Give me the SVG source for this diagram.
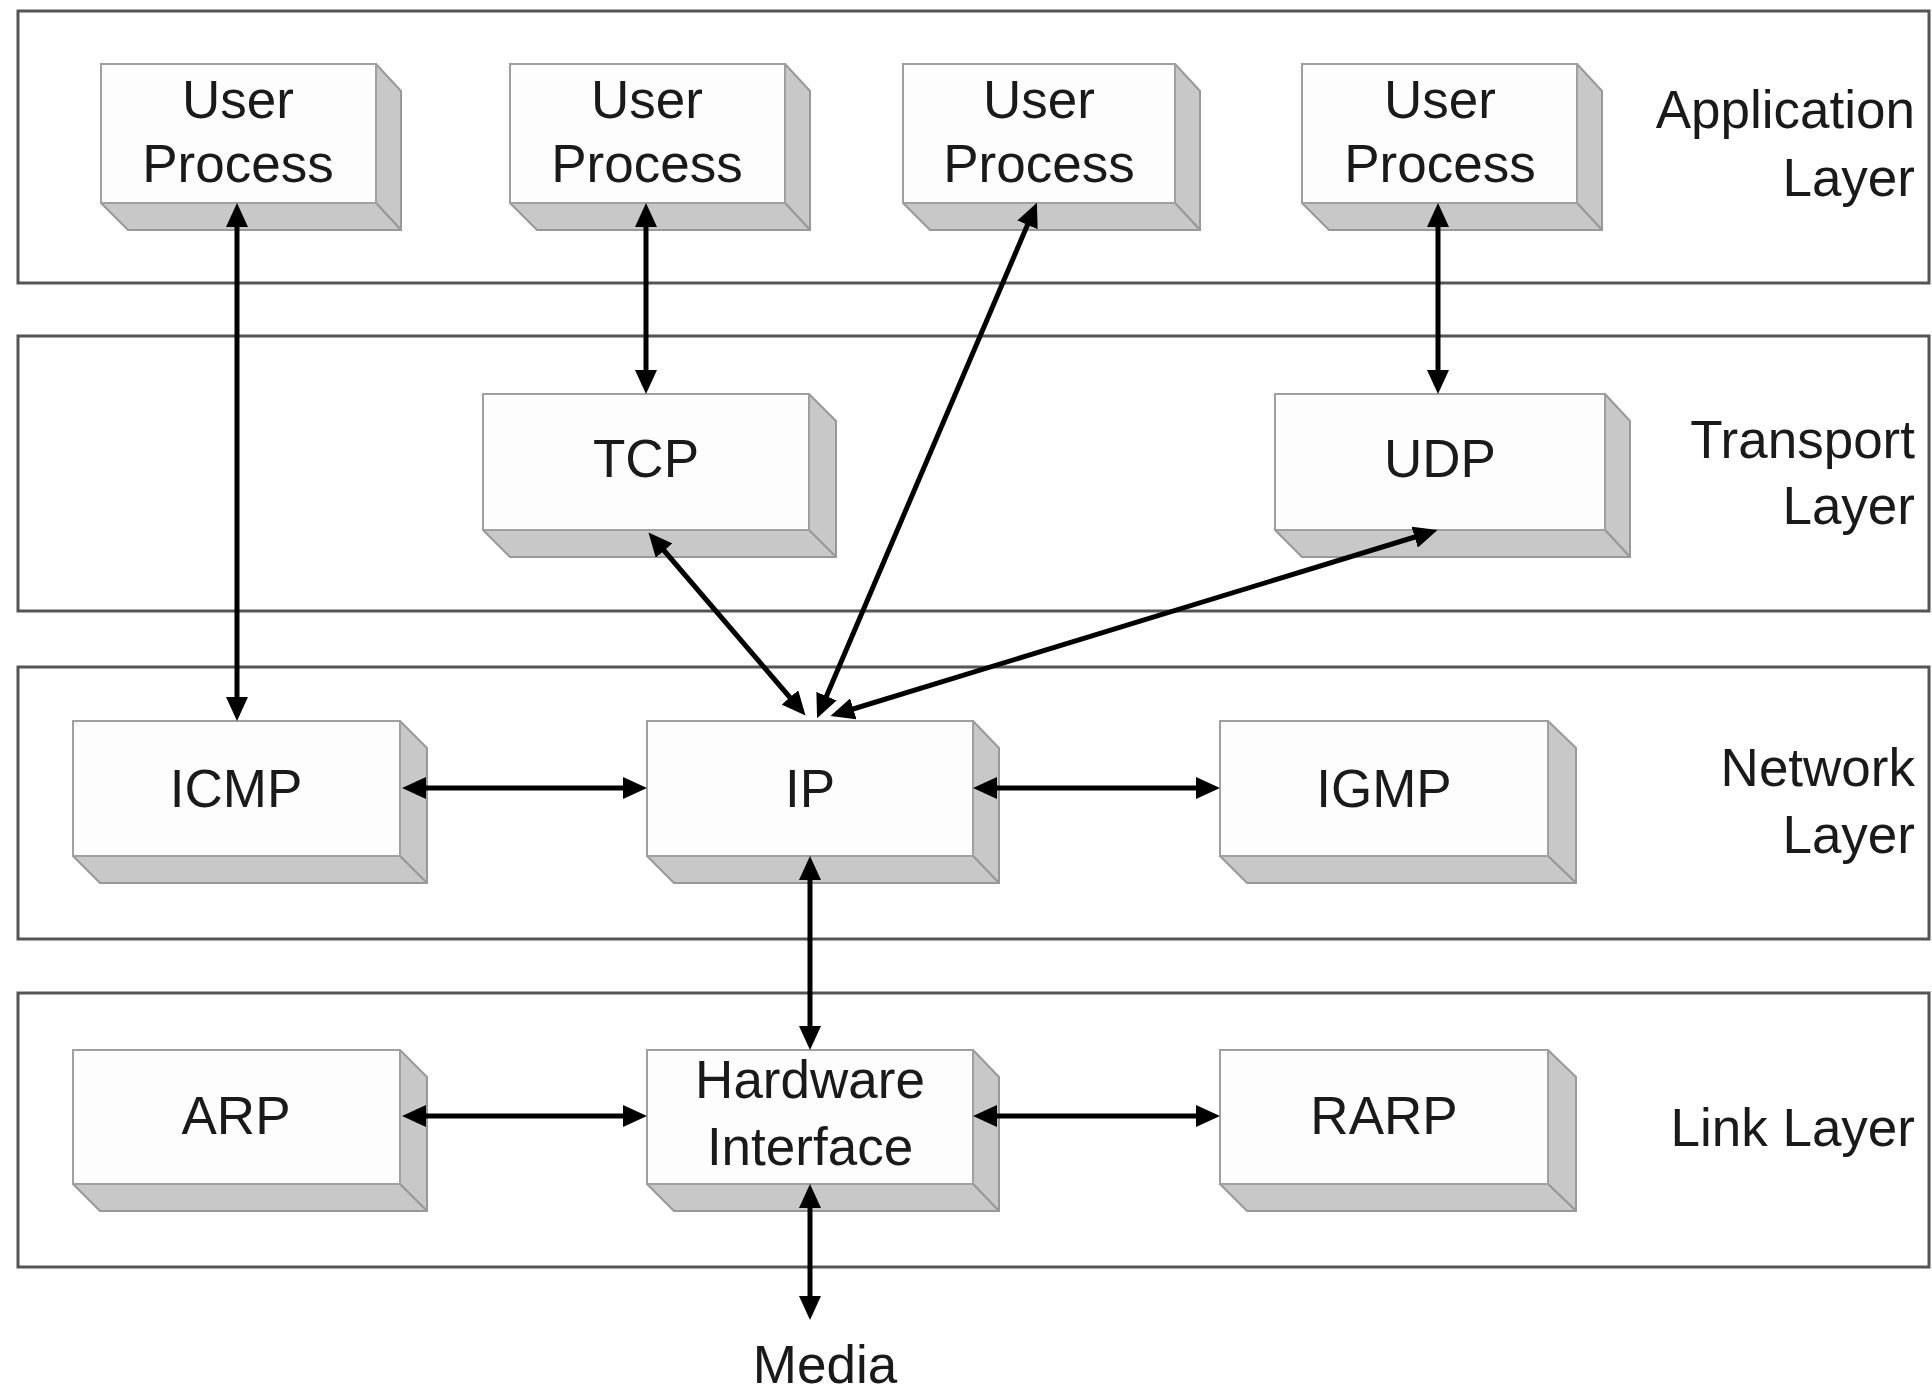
<svg xmlns="http://www.w3.org/2000/svg" width="1932" height="1397" viewBox="0 0 1932 1397">
<style>
.frame{fill:#fff;stroke:#555;stroke-width:3}
.front{fill:#fdfdfd;stroke:#a0a0a0;stroke-width:2}
.side{fill:#c8c8c8;stroke:#999;stroke-width:2;stroke-linejoin:round}
.t{font-family:"Liberation Sans",Arial,sans-serif;font-size:53px;fill:#1a1a1a;text-anchor:middle}
.lbl{font-family:"Liberation Sans",Arial,sans-serif;font-size:53px;fill:#1a1a1a;text-anchor:end}
.c{stroke:#000;stroke-width:5;fill:none;marker-start:url(#ah);marker-end:url(#ah)}
</style>
<defs>
<marker id="ah" viewBox="0 0 24 22" refX="14" refY="11" markerWidth="24" markerHeight="22" markerUnits="userSpaceOnUse" orient="auto-start-reverse">
<path d="M0,0 L24,11 L0,22 z" fill="#000"/>
</marker>
</defs>
<rect width="1932" height="1397" fill="#fff"/>
<g id="layers">
<rect class="frame" x="18" y="11" width="1911" height="272"/>
<rect class="frame" x="18" y="336" width="1911" height="275"/>
<rect class="frame" x="18" y="667" width="1911" height="272"/>
<rect class="frame" x="18" y="993" width="1911" height="274"/>
<text class="lbl" x="1915" y="128">Application</text>
<text class="lbl" x="1915" y="196">Layer</text>
<text class="lbl" x="1915" y="458">Transport</text>
<text class="lbl" x="1915" y="524">Layer</text>
<text class="lbl" x="1915" y="786">Network</text>
<text class="lbl" x="1915" y="853">Layer</text>
<text class="lbl" x="1915" y="1146">Link Layer</text>
</g>
<g id="up1">
<polygon class="side" points="376,64 401,91 401,230 376,203"/>
<polygon class="side" points="101,203 376,203 401,230 128,230"/>
<rect class="front" x="101" y="64" width="275" height="139"/>
<text class="t" x="238" y="118">User</text><text class="t" x="238" y="182">Process</text>
</g>
<g id="up2">
<polygon class="side" points="785,64 810,91 810,230 785,203"/>
<polygon class="side" points="510,203 785,203 810,230 537,230"/>
<rect class="front" x="510" y="64" width="275" height="139"/>
<text class="t" x="647" y="118">User</text><text class="t" x="647" y="182">Process</text>
</g>
<g id="up3">
<polygon class="side" points="1175,64 1200,91 1200,230 1175,203"/>
<polygon class="side" points="903,203 1175,203 1200,230 930,230"/>
<rect class="front" x="903" y="64" width="272" height="139"/>
<text class="t" x="1039" y="118">User</text><text class="t" x="1039" y="182">Process</text>
</g>
<g id="up4">
<polygon class="side" points="1577,64 1602,91 1602,230 1577,203"/>
<polygon class="side" points="1302,203 1577,203 1602,230 1329,230"/>
<rect class="front" x="1302" y="64" width="275" height="139"/>
<text class="t" x="1440" y="118">User</text><text class="t" x="1440" y="182">Process</text>
</g>
<g id="tcp">
<polygon class="side" points="809,394 836,421 836,557 809,530"/>
<polygon class="side" points="483,530 809,530 836,557 510,557"/>
<rect class="front" x="483" y="394" width="326" height="136"/>
<text class="t" x="646" y="477">TCP</text>
</g>
<g id="udp">
<polygon class="side" points="1605,394 1630,421 1630,557 1605,530"/>
<polygon class="side" points="1275,530 1605,530 1630,557 1302,557"/>
<rect class="front" x="1275" y="394" width="330" height="136"/>
<text class="t" x="1440" y="477">UDP</text>
</g>
<g id="icmp">
<polygon class="side" points="400,721 427,748 427,883 400,856"/>
<polygon class="side" points="73,856 400,856 427,883 100,883"/>
<rect class="front" x="73" y="721" width="327" height="135"/>
<text class="t" x="236" y="807">ICMP</text>
</g>
<g id="ip">
<polygon class="side" points="973,721 999,748 999,883 973,856"/>
<polygon class="side" points="647,856 973,856 999,883 674,883"/>
<rect class="front" x="647" y="721" width="326" height="135"/>
<text class="t" x="810" y="807">IP</text>
</g>
<g id="igmp">
<polygon class="side" points="1548,721 1576,748 1576,883 1548,856"/>
<polygon class="side" points="1220,856 1548,856 1576,883 1247,883"/>
<rect class="front" x="1220" y="721" width="328" height="135"/>
<text class="t" x="1384" y="807">IGMP</text>
</g>
<g id="arp">
<polygon class="side" points="400,1050 427,1077 427,1211 400,1184"/>
<polygon class="side" points="73,1184 400,1184 427,1211 100,1211"/>
<rect class="front" x="73" y="1050" width="327" height="134"/>
<text class="t" x="236" y="1134">ARP</text>
</g>
<g id="hw">
<polygon class="side" points="973,1050 999,1077 999,1211 973,1184"/>
<polygon class="side" points="647,1184 973,1184 999,1211 674,1211"/>
<rect class="front" x="647" y="1050" width="326" height="134"/>
<text class="t" x="810" y="1098">Hardware</text><text class="t" x="810" y="1165">Interface</text>
</g>
<g id="rarp">
<polygon class="side" points="1548,1050 1576,1077 1576,1211 1548,1184"/>
<polygon class="side" points="1220,1184 1548,1184 1576,1211 1247,1211"/>
<rect class="front" x="1220" y="1050" width="328" height="134"/>
<text class="t" x="1384" y="1134">RARP</text>
</g>
<g id="media">
<text class="t" x="825" y="1383">Media</text>
</g>
<g id="connectors">
<line class="c" x1="237" y1="213" x2="237" y2="711"/>
<line class="c" x1="646" y1="213" x2="646" y2="384"/>
<line class="c" x1="1438" y1="213" x2="1438" y2="384"/>
<line class="c" x1="1033" y1="212" x2="821" y2="709"/>
<line class="c" x1="655" y1="540" x2="799" y2="708"/>
<line class="c" x1="1428" y1="533" x2="840" y2="713"/>
<line class="c" x1="412" y1="788" x2="637" y2="788"/>
<line class="c" x1="983" y1="788" x2="1210" y2="788"/>
<line class="c" x1="810" y1="866" x2="810" y2="1040"/>
<line class="c" x1="412" y1="1116" x2="637" y2="1116"/>
<line class="c" x1="983" y1="1116" x2="1210" y2="1116"/>
<line class="c" x1="810" y1="1194" x2="810" y2="1310"/>
</g>
</svg>
